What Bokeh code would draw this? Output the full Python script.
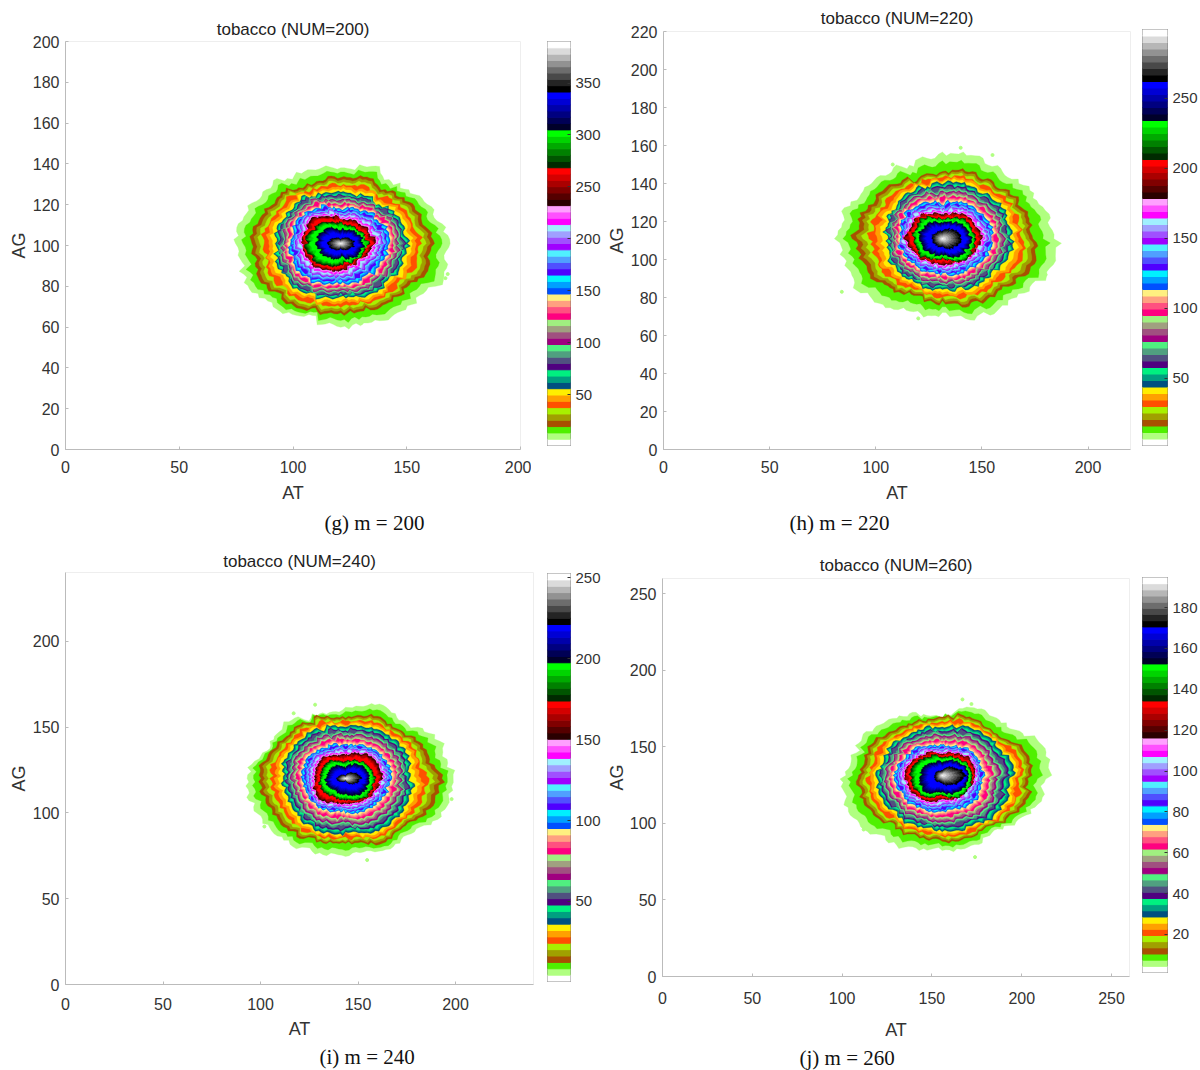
import numpy as np
from bokeh.embed import file_html
from bokeh.resources import INLINE
from bokeh.layouts import column, row
from bokeh.models import ColumnDataSource, FixedTicker, Range1d, Title
from bokeh.plotting import figure

# colour scale, bottom of the bar to the top
LEVEL_COLORS = ["#ffffff", "#b0ff80", "#50f000", "#a85000", "#a0a000", "#a8f000", "#ff5000", "#ffa000",
                "#ffee00", "#005080", "#00a080", "#00f080", "#500080", "#505080", "#50a080", "#50f080",
                "#a00080", "#a05080", "#a0a080", "#a0f080", "#ff0080", "#ff5080", "#ffa080", "#fff080",
                "#0050ff", "#00a0ff", "#00f0ff", "#5000ff", "#5050ff", "#50a0ff", "#50f0ff", "#a000ff",
                "#a050ff", "#a0a0ff", "#a0f0ff", "#ff00ff", "#ff50ff", "#ffa0ff", "#2a0000", "#550000",
                "#800000", "#aa0000", "#d40000", "#ff0000", "#002a00", "#005500", "#008000", "#00aa00",
                "#00d400", "#00ff00", "#00002a", "#000055", "#000080", "#0000aa", "#0000d4", "#0000ff",
                "#000000", "#242424", "#494949", "#6d6d6d", "#929292", "#b6b6b6", "#dbdbdb", "#ffffff"]

KEY_LEVELS = [1, 3, 9, 24, 38, 44, 50, 56]

# radii (AT/AG units) counter-clockwise from east, one list per key level
g_center = [121, 101]
g_rings = [
    [47, 43, 37, 40, 37, 39, 41, 45, 45.6, 45, 42.6, 38, 40, 40.7, 41.7, 48],
    [40, 37, 33, 34, 33, 32, 35, 38, 39, 39, 37, 35, 33.5, 34.5, 35, 40],
    [29.4, 26, 25, 28, 28.7, 29, 26, 28],
    [21, 20, 17, 22, 22, 22.5, 19, 20],
    [14.7, 13, 12, 17.5, 16, 15.4, 12.5, 11],
    [11.8, 10, 9.8, 13.4, 15.4, 13.6, 9.8, 10.4],
    [10, 8.5, 6.5, 10, 10.3, 8.9, 6.5, 9.4],
    [6, 2, 5.5, 2.5],
]
g_jag = [1.1, -0.9, 1.5, -1.3, 0.4, 1.8, -1.0, 0.3, -1.6, 1.0, -0.5, 1.3, -1.5, 0.8, -0.3, 1.6, -1.2, 0.6, 1.4,
         -1.7, 0.2, 1.0, -0.8, 1.7, -0.6, -1.2, 1.2, -0.2, 1.5, -1.4, 0.7, -0.9, 1.3, 0.1, -1.5, 1.1, -0.7]
g_specks = [[96.7, 68], [146.7, 69.5], [167, 84], [90, 121], [105, 135], [168, 86], [130, 62]]

h_center = [131.4, 110.9]
h_rings = [
    [53.5, 50, 44, 46, 43, 42, 43, 47, 49.5, 48, 46, 42, 40, 45, 44, 52],
    [43, 42, 37, 37.6, 34, 34, 37, 39, 41.7, 40, 36, 33, 34, 37.6, 37, 44.5],
    [33, 31, 29, 28, 26.7, 27, 27, 29],
    [23.6, 22, 18.4, 21.7, 20.4, 19.5, 18.4, 20.5],
    [18, 16, 12.3, 16, 17.3, 14, 13, 14],
    [15, 14, 9.6, 14.7, 13.4, 13.6, 9.6, 15],
    [13.4, 11, 8, 11, 11, 10, 8, 12],
    [9, 4, 5, 4],
]
h_jag = [-1.2, 1.4, -0.4, 1.0, -1.6, 0.7, 1.5, -1.1, 0.2, -1.4, 1.7, -0.7, 1.0, -1.3, 0.5, 1.2, -1.7, 0.3, 1.6,
         -0.9, 0.8, -1.5, 1.1, -0.2, 1.4, -1.0, 0.6, -1.3, 1.5, -0.6, 0.9, -1.6, 0.4, 1.3, -1.1, 1.7, -0.5]
h_specks = [[140, 158.8], [108, 150], [155, 155], [84, 83], [180, 92], [120, 69]]

i_center = [143.6, 120]
i_rings = [
    [54.7, 53, 43, 45.7, 39.7, 39, 45, 44, 51, 51, 49, 44.6, 43.6, 45.7, 44, 53],
    [48.7, 44, 38, 38.7, 35, 38, 39, 42, 44.4, 43.5, 43, 38, 36.8, 41.5, 39, 46],
    [34, 33, 30, 33, 32.5, 33, 32, 34],
    [23, 22, 19.4, 22.5, 23, 21, 19.4, 21],
    [18, 18, 13.6, 16.7, 16.2, 17.4, 13.6, 15.4],
    [14.5, 12.8, 9.7, 13.4, 13.7, 12.8, 11.6, 14.8],
    [12, 11, 6.8, 9.6, 10.3, 9, 8.7, 12],
    [8, 1.5, 4.5, 1],
]
i_jag = [0.9, -1.4, 1.2, 0.3, -1.0, 1.7, -0.6, -1.3, 1.1, -0.3, 1.5, -1.6, 0.5, 1.0, -1.1, 0.2, 1.6, -0.8, -1.4,
         1.3, -0.5, 0.8, -1.7, 1.4, 0.1, -1.2, 1.0, -0.7, 1.6, -1.0, 0.4, 1.2, -1.5, 0.6, -0.4, 1.5, -1.2]
i_specks = [[154.7, 72.5], [102, 92], [128, 163], [117, 158], [198, 108], [185, 135]]

j_center = [155.7, 131.4]
j_rings = [
    [59, 57, 48, 48, 39, 43.6, 48.8, 50, 55, 56, 54, 50, 47.8, 47.7, 48, 55.7],
    [49, 47, 40, 41, 39, 38, 41, 44, 47, 46, 43.5, 41.5, 42.4, 42, 44, 49.6],
    [39, 36, 32.6, 33, 36, 36, 34.8, 39],
    [23, 22.5, 19.6, 23, 26, 25, 22.8, 24.6],
    [18.5, 18.4, 14, 17.7, 20.4, 19, 16, 16],
    [16.7, 15, 12, 15.8, 17.6, 17, 13, 18],
    [14.8, 13, 8.7, 10.6, 12, 14, 10.9, 15],
    [13, 3, 4, 5],
]
j_jag = [1.6, -1.0, 0.5, -1.7, 1.2, 0.2, -1.3, 1.8, -0.7, 0.9, -1.5, 1.4, -0.2, -1.1, 1.7, -0.8, 0.6, -1.6, 1.1,
         0.3, -1.4, 1.5, -0.9, 0.7, -1.8, 1.3, -0.4, 1.0, -1.2, 1.6, -0.6, 0.4, -1.5, 1.2, -0.1, -1.3, 1.4]
j_specks = [[174, 78], [167, 181], [172, 178], [193, 148], [200, 143], [104, 120], [112, 96], [125, 100], [206, 118]]

# axes
g_x_ticks = [0, 50, 100, 150, 200]
g_y_ticks = [0, 20, 40, 60, 80, 100, 120, 140, 160, 180, 200]
h_x_ticks = [0, 50, 100, 150, 200]
h_y_ticks = [0, 20, 40, 60, 80, 100, 120, 140, 160, 180, 200, 220]
i_x_ticks = [0, 50, 100, 150, 200]
i_y_ticks = [0, 50, 100, 150, 200]
j_x_ticks = [0, 50, 100, 150, 200, 250]
j_y_ticks = [0, 50, 100, 150, 200, 250]

# colour bars
g_bar_range = [1, 390]
g_bar_ticks = [50, 100, 150, 200, 250, 300, 350]
h_bar_range = [2, 299]
h_bar_ticks = [50, 100, 150, 200, 250]
i_bar_range = [0.6, 252.5]
i_bar_ticks = [50, 100, 150, 200, 250]
j_bar_range = [1.4, 194.7]
j_bar_ticks = [20, 40, 60, 80, 100, 120, 140, 160, 180]

FONT = "Liberation Sans"
TXT = "#333333"
# within the red, green and blue runs the dark steps crowd together at the outer edge
STEP_SHARE = [0, 0.1, 0.2, 0.3, 0.4, 0.5]


def effective(level):
    if 38 <= level < 56:
        start = 38 + (level - 38) // 6 * 6
        return start + 6 * STEP_SHARE[level - start]
    return level


def ring(center, rings, jag, level):
    m = len(jag)
    n = m * 4
    theta = np.arange(n) * 2 * np.pi / n
    keys = []
    for radii in rings:
        spokes = np.arange(len(radii)) * 2 * np.pi / len(radii)
        keys.append(np.interp(theta, spokes, radii, period=2 * np.pi))
    keys = np.array(keys + [keys[-1] * 0.05])
    lv = KEY_LEVELS + [63]
    eff = effective(level)
    r = np.array([np.interp(eff, lv, keys[:, k]) for k in range(n)])
    wob = []
    for k in range(n):
        a = k + (k // m) * 5 + level // 3
        b = k // 3 + level // 7
        wob.append(1.0 * (jag[a % m] + jag[(a + 1) % m]) / 2 + 0.7 * jag[(b * 7) % m])
    wob = np.array(wob)
    r = np.maximum(r + wob * (0.4 + r / 55) * np.minimum(1, r / 6), 0.1)
    return center[0] + r * np.cos(theta), center[1] + r * np.sin(theta)


def panel(title, center, rings, jag, specks, xmax, ymax, xt, yt, w, h, borders, tick_so, lab_so, title_so, y_lab_so,
          cap, cap_off, cap_so):
    left, right, top, bottom = borders
    p = figure(width=w, height=h, output_backend="svg", toolbar_location=None,
               x_range=Range1d(0, xmax), y_range=Range1d(0, ymax),
               min_border_left=left, min_border_right=right, min_border_top=top, min_border_bottom=bottom,
               title=title)
    p.frame_align = False
    p.grid.visible = False
    p.outline_line_color = "#eeeeee"
    p.title.text_font = FONT
    p.title.text_font_style = "normal"
    p.title.text_font_size = "17px"
    p.title.text_color = "#222222"
    p.title.align = "center"
    p.title.standoff = title_so
    for ax, ticks, lab in ((p.xaxis[0], xt, "AT"), (p.yaxis[0], yt, "AG")):
        ax.ticker = FixedTicker(ticks=ticks)
        ax.axis_label = lab
        ax.axis_label_text_font = FONT
        ax.axis_label_text_font_style = "normal"
        ax.axis_label_text_font_size = "18px"
        ax.axis_label_text_color = TXT
        ax.major_label_text_font = FONT
        ax.major_label_text_font_size = "16px"
        ax.major_label_text_color = TXT
        ax.axis_line_color = "#bbbbbb"
        ax.major_tick_line_color = "#bbbbbb"
        ax.major_tick_in = 3
        ax.major_tick_out = 0
        ax.minor_tick_line_color = None
    p.xaxis[0].major_label_standoff = tick_so
    p.xaxis[0].axis_label_standoff = lab_so
    p.yaxis[0].major_label_standoff = 6
    p.yaxis[0].axis_label_standoff = y_lab_so
    xs, ys, cs = [], [], []
    for lvl in range(1, 64):
        x, y = ring(center, rings, jag, lvl)
        xs.append(x.tolist())
        ys.append(y.tolist())
        cs.append(LEVEL_COLORS[lvl])
    p.scatter([s[0] for s in specks], [s[1] for s in specks], size=3, color=LEVEL_COLORS[1])
    src = ColumnDataSource(dict(xs=xs, ys=ys, c=cs))
    p.patches("xs", "ys", source=src, fill_color="c", line_color="c", line_width=0.3)
    p.add_layout(Title(text=cap, align="left", offset=cap_off, standoff=cap_so, text_font="Liberation Serif",
                       text_font_size="21px", text_font_style="normal", text_color="#111111",
                       text_line_height=0.8), "below")
    return p


def bar(rng, ticks, w, h, borders):
    left, right, top, bottom = borders
    p = figure(width=w, height=h, output_backend="svg", toolbar_location=None,
               x_range=Range1d(0, 1), y_range=Range1d(rng[0], rng[1]),
               min_border_left=left, min_border_right=right, min_border_top=top, min_border_bottom=bottom,
               y_axis_location="right")
    p.frame_align = False
    p.grid.visible = False
    p.xaxis.visible = False
    p.outline_line_color = "#666666"
    edges = np.linspace(rng[0], rng[1], len(LEVEL_COLORS) + 1)
    p.quad(left=0, right=1, bottom=edges[:-1], top=edges[1:], fill_color=LEVEL_COLORS, line_color=LEVEL_COLORS)
    ax = p.yaxis[0]
    ax.ticker = FixedTicker(ticks=ticks)
    ax.axis_line_color = None
    ax.major_tick_in = 3
    ax.major_tick_out = 0
    ax.major_tick_line_color = "#333333"
    ax.minor_tick_line_color = None
    ax.major_label_text_font = FONT
    ax.major_label_text_font_size = "15px"
    ax.major_label_text_color = TXT
    ax.major_label_standoff = 5
    return p


H1, H2 = 540, 530

pg = panel("tobacco (NUM=200)", g_center, g_rings, g_jag, g_specks, 200, 200, g_x_ticks, g_y_ticks,
           531, H1, (65, 11, 41, 91), 11, 7, 5, 1, "(g) m = 200", 259, 6)
cg = bar(g_bar_range, g_bar_ticks, 72, H1, (16, 32, 41, 95))
ph = panel("tobacco (NUM=220)", h_center, h_rings, h_jag, h_specks, 220, 220, h_x_ticks, h_y_ticks,
           532, H1, (60, 5, 31, 91), 11, 7, 7, 1, "(h) m = 220", 126, 6)
ch = bar(h_bar_range, h_bar_ticks, 65, H1, (7, 32, 29, 95))

pi_ = panel("tobacco (NUM=240)", i_center, i_rings, i_jag, i_specks, 240, 240, i_x_ticks, i_y_ticks,
            540, H2, (65, 7, 32, 85), 13, 6, 3, 1, "(i) m = 240", 254, 3)
ci = bar(i_bar_range, i_bar_ticks, 63, H2, (7, 32, 33, 89))
pj = panel("tobacco (NUM=260)", j_center, j_rings, j_jag, j_specks, 260, 260, j_x_ticks, j_y_ticks,
           532, H2, (59, 6, 38, 94), 15, 13, 7, 0, "(j) m = 260", 137, 2)
cj = bar(j_bar_range, j_bar_ticks, 65, H2, (7, 32, 37, 98))

page = column(row(pg, cg, ph, ch, spacing=0), row(pi_, ci, pj, cj, spacing=0), spacing=0)
open("out.html", "w").write(file_html(page, INLINE))
